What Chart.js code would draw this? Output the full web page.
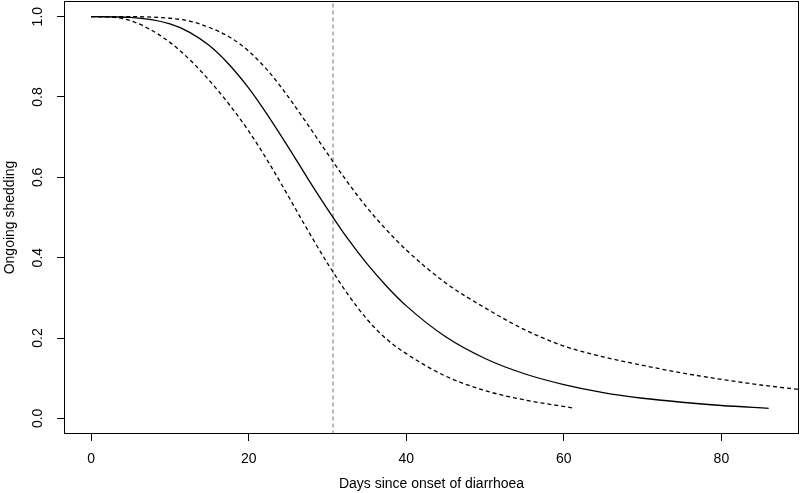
<!DOCTYPE html>
<html>
<head>
<meta charset="utf-8">
<script src="https://cdn.jsdelivr.net/npm/chart.js@4"></script>
<style>
  html, body { margin: 0; padding: 0; background: #fff; }
  #wrap { width: 800px; height: 493px; }
</style>
</head>
<body>
<div id="wrap"><canvas id="chart"></canvas></div>
<script>
// days since onset and estimated proportion still shedding
const midDays = [0, 5, 10, 12.5, 15, 17.5, 20, 22.5, 25, 27.5, 30, 32.5, 35, 37.5, 40, 45, 50, 55, 60, 65, 70, 75, 80, 86];
const midShed = [1.0, 0.998, 0.982, 0.961, 0.928, 0.881, 0.822, 0.752, 0.676, 0.597, 0.521, 0.449, 0.385, 0.329, 0.28, 0.203, 0.149, 0.111, 0.084, 0.064, 0.05, 0.04, 0.032, 0.025];

const upperDays = [0, 5, 10, 12.5, 15, 17.5, 20, 22.5, 25, 27.5, 30, 32.5, 35, 37.5, 40, 45, 50, 55, 60, 65, 70, 75, 80, 85, 89.85];
const upperShed = [1.0, 1.0, 0.996, 0.989, 0.973, 0.95, 0.914, 0.864, 0.801, 0.731, 0.659, 0.589, 0.525, 0.469, 0.419, 0.337, 0.275, 0.221, 0.18, 0.153, 0.132, 0.113, 0.097, 0.083, 0.072];

const lowerDays = [0, 2.5, 5, 7.5, 10, 12.5, 15, 17.5, 20, 22.5, 25, 27.5, 30, 32.5, 35, 37.5, 40, 45, 50, 55, 61.1];
const lowerShed = [1.0, 0.999, 0.99, 0.968, 0.936, 0.893, 0.841, 0.782, 0.715, 0.638, 0.554, 0.468, 0.386, 0.311, 0.247, 0.197, 0.161, 0.105, 0.069, 0.046, 0.026];

const medianDay = 30.7;

const xTicks = [0, 20, 40, 60, 80];
const yTicks = [0, 0.2, 0.4, 0.6, 0.8, 1.0];
const yTickLabels = ['0.0', '0.2', '0.4', '0.6', '0.8', '1.0'];

const FONT = 'Liberation Sans, Arial, Helvetica, sans-serif';

function toPoints(xs, ys) {
  return xs.map((x, i) => ({ x: x, y: ys[i] }));
}

// R style box round the plot region, plus rotated y tick labels
const boxPlugin = {
  id: 'rbox',
  afterDraw(chart) {
    const { ctx, chartArea } = chart;
    ctx.save();
    ctx.strokeStyle = '#000';
    ctx.lineWidth = 1;
    ctx.strokeRect(Math.round(chartArea.left) + 0.5, Math.round(chartArea.top) + 0.5,
      Math.round(chartArea.right - chartArea.left) - 1, Math.round(chartArea.bottom - chartArea.top) - 1);

    const yScale = chart.scales.y;
    ctx.fillStyle = '#000';
    ctx.font = '14px ' + FONT;
    ctx.textAlign = 'center';
    ctx.textBaseline = 'middle';
    yTicks.forEach((v, i) => {
      const py = yScale.getPixelForValue(v);
      ctx.save();
      ctx.translate(38, py);
      ctx.rotate(-Math.PI / 2);
      ctx.fillText(yTickLabels[i], 0, 0);
      ctx.restore();
    });
    ctx.restore();
  }
};

const ctx = document.getElementById('chart').getContext('2d');
new Chart(ctx, {
  type: 'line',
  data: {
    datasets: [
      {
        data: toPoints(midDays, midShed),
        borderColor: '#000',
        borderWidth: 1.3,
        pointRadius: 0,
        cubicInterpolationMode: 'monotone'
      },
      {
        data: toPoints(upperDays, upperShed),
        borderColor: '#000',
        borderWidth: 1.3,
        borderDash: [4, 3],
        pointRadius: 0,
        cubicInterpolationMode: 'monotone'
      },
      {
        data: toPoints(lowerDays, lowerShed),
        borderColor: '#000',
        borderWidth: 1.3,
        borderDash: [4, 3],
        pointRadius: 0,
        cubicInterpolationMode: 'monotone'
      },
      {
        data: [{ x: medianDay, y: -0.04 }, { x: medianDay, y: 1.04 }],
        borderColor: '#888',
        borderWidth: 1.2,
        borderDash: [4, 3],
        pointRadius: 0
      }
    ]
  },
  options: {
    responsive: true,
    maintainAspectRatio: false,
    animation: false,
    layout: { padding: { top: 1, right: 1, left: 0, bottom: 0 } },
    plugins: {
      legend: { display: false },
      tooltip: { enabled: false }
    },
    scales: {
      x: {
        type: 'linear',
        min: -3.45,
        max: 89.85,
        afterBuildTicks: scale => { scale.ticks = xTicks.map(v => ({ value: v })); },
        afterFit: scale => { scale.height = 59; },
        grid: { drawOnChartArea: false, drawTicks: true, tickLength: 7, color: '#000' },
        border: { display: false },
        ticks: {
          color: '#000',
          padding: 10,
          maxRotation: 0,
          font: { family: FONT, size: 14 }
        },
        title: {
          display: true,
          text: 'Days since onset of diarrhoea',
          color: '#000',
          padding: { top: 0, bottom: 0 },
          font: { family: FONT, size: 14 }
        }
      },
      y: {
        type: 'linear',
        min: -0.039,
        max: 1.039,
        afterBuildTicks: scale => { scale.ticks = yTicks.map(v => ({ value: v })); },
        afterFit: scale => { scale.width = 64; },
        grid: { drawOnChartArea: false, drawTicks: true, tickLength: 7, color: '#000' },
        border: { display: false },
        ticks: { display: false },
        title: {
          display: true,
          text: 'Ongoing shedding',
          color: '#000',
          padding: { top: 2, bottom: 0 },
          font: { family: FONT, size: 14 }
        }
      }
    }
  },
  plugins: [boxPlugin]
});
</script>
</body>
</html>
